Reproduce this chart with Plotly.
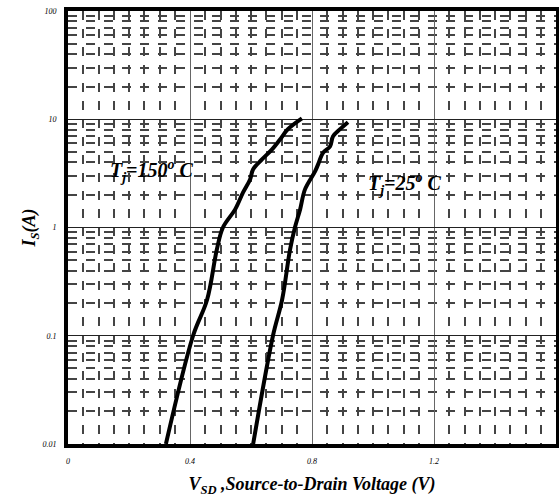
import plotly.graph_objects as go

v_150 = [0.321, 0.41, 0.456, 0.488, 0.508, 0.548, 0.574, 0.597, 0.607, 0.636, 0.669, 0.695, 0.721, 0.767]
i_150 = [0.01, 0.1, 0.215, 0.626, 1.0, 1.47, 2.11, 2.78, 3.45, 4.26, 5.27, 6.5, 8.1, 10.2]
v_25 = [0.607, 0.672, 0.702, 0.728, 0.744, 0.761, 0.777, 0.810, 0.820, 0.836, 0.859, 0.869, 0.892, 0.918]
i_25 = [0.01, 0.1, 0.215, 0.626, 1.0, 1.47, 2.25, 3.3, 3.83, 4.9, 5.6, 6.96, 8.1, 9.4]

x_ticks = [0, 0.4, 0.8, 1.2, 1.6]
x_labels = ["0", "0.4", "0.8", "1.2", "1.6"]
y_ticks = [0.01, 0.1, 1, 10, 100]
y_labels = ["0.01", "0.1", "1", "10", "100"]

x_minor = [round(k * 0.05, 2) for k in range(1, 32) if k % 8 != 0]
y_minor = [m * d for d in [0.01, 0.1, 1, 10] for m in range(2, 10)]

serif = "Liberation Serif"
fig = go.Figure()
for v, i in [(v_150, i_150), (v_25, i_25)]:
    fig.add_trace(go.Scatter(x=v, y=i, mode="lines", line=dict(color="black", width=4, shape="spline"),
                             showlegend=False, hoverinfo="skip"))

fig.add_annotation(x=0.275, y=0.518, yref="y", text="T<sub>j</sub>=150<sup>o</sup> C", showarrow=False,
                   font=dict(family=serif, size=20, color="black", style="italic", weight="bold"))
fig.add_annotation(x=1.105, y=0.398, yref="y", text="T<sub>j</sub>=25<sup>o</sup> C", showarrow=False,
                   font=dict(family=serif, size=20, color="black", style="italic", weight="bold"))

fig.update_xaxes(range=[0, 1.6], tickvals=x_ticks, ticktext=x_labels, ticks="", automargin=False,
                 ticklabelstandoff=6,
                 tickfont=dict(family=serif, size=8, color="black", style="italic"),
                 showgrid=True, gridcolor="#666", gridwidth=1.3,
                 minor=dict(tickvals=x_minor, ticks="", showgrid=True, gridcolor="#444", griddash="dash", gridwidth=1.5),
                 showline=True, linecolor="black", linewidth=4, mirror=True, zeroline=False,
                 title=dict(text="V<sub>SD</sub> ,Source-to-Drain Voltage (V)", standoff=18,
                            font=dict(family=serif, size=18, color="black", style="italic", weight="bold")))
fig.update_yaxes(type="log", range=[-2, 2], tickvals=y_ticks, ticktext=y_labels, ticks="", automargin=False,
                 ticklabelstandoff=6,
                 tickfont=dict(family=serif, size=8, color="black", style="italic"),
                 showgrid=True, gridcolor="#222", gridwidth=1.2,
                 minor=dict(tickvals=y_minor, ticks="", showgrid=True, gridcolor="#444", griddash="dash", gridwidth=1.5),
                 showline=True, linecolor="black", linewidth=4, mirror=True, zeroline=False,
                 title=dict(text="I<sub>S</sub>(A)", standoff=3,
                            font=dict(family=serif, size=18, color="black", style="italic", weight="bold")))

fig.update_layout(width=559, height=497, margin=dict(l=68, r=3, t=11, b=53),
                  plot_bgcolor="white", paper_bgcolor="white")
fig.write_html("out.html", config={"displayModeBar": False},
               post_script="document.body.style.margin='0';")
